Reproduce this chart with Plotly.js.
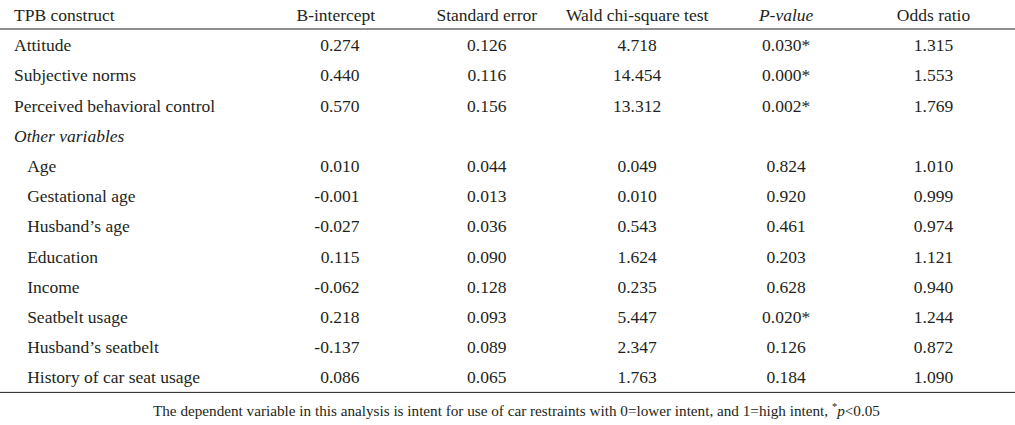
<!DOCTYPE html>
<html>
<head>
<meta charset="utf-8">
<script src="https://cdn.plot.ly/plotly-3.0.1.min.js"></script>
<style>html,body{margin:0;padding:0;background:#fff;}#chart{width:1015px;height:425px;}</style>
</head>
<body>
<div id="chart"></div>
<script>
// ---- data ----
var headers = ["TPB construct", "B-intercept", "Standard error", "Wald chi-square test", "P-value", "Odds ratio"];
var italicHeader = 4; // the P-value header is set in italics
var tpbConstructs = ["Attitude", "Subjective norms", "Perceived behavioral control"];
var otherGroupLabel = "Other variables";
var otherVariables = ["Age", "Gestational age", "Husband’s age", "Education", "Income", "Seatbelt usage", "Husband’s seatbelt", "History of car seat usage"];
var bIntercept = [0.274, 0.440, 0.570, 0.010, -0.001, -0.027, 0.115, -0.062, 0.218, -0.137, 0.086];
var stdError   = [0.126, 0.116, 0.156, 0.044, 0.013, 0.036, 0.090, 0.128, 0.093, 0.089, 0.065];
var waldChi    = [4.718, 14.454, 13.312, 0.049, 0.010, 0.543, 1.624, 0.235, 5.447, 2.347, 1.763];
var pValue     = [0.030, 0.000, 0.002, 0.824, 0.920, 0.461, 0.203, 0.628, 0.020, 0.126, 0.184];
var oddsRatio  = [1.315, 1.553, 1.769, 1.010, 0.999, 0.974, 1.121, 0.940, 1.244, 0.872, 1.090];
var footnote = "The dependent variable in this analysis is intent for use of car restraints with 0=lower intent, and 1=high intent, <sup>*</sup><i>p</i>&lt;0.05";

// ---- build table columns ----
var NB = "\u00a0";
function rep(s, n) { var o = ""; for (var i = 0; i < n; i++) o += s; return o; }
function noWrap(s) { return s.split(" ").join(NB); }
var indent = rep(NB, 3);
var bPad = rep(NB, 10);
var nT = tpbConstructs.length;

function withGroupGap(arr, fmt) {
  var out = [];
  arr.forEach(function (v, i) {
    if (i === nT) out.push("");
    out.push(fmt(v));
  });
  return out;
}
var f3 = function (v) { return v.toFixed(3); };

var col0 = tpbConstructs.slice()
  .concat([otherGroupLabel])
  .concat(otherVariables.map(function (s) { return indent + s; }));
var col0Style = col0.map(function (s, i) { return i === nT ? "italic" : "normal"; });
var col1 = withGroupGap(bIntercept, function (v) { return v.toFixed(3) + bPad; });
var col2 = withGroupGap(stdError, f3);
var col3 = withGroupGap(waldChi, f3);
var col4 = withGroupGap(pValue, function (v) { return v.toFixed(3) + (v < 0.05 ? "*" : ""); });
var col5 = withGroupGap(oddsRatio, f3);

var W = 1015, H = 425;
var FONT = "Liberation Serif, Times New Roman, serif";
var TXT = "#231f20";
var FS = 17.5;
var headerH = 30, rowH = 30.2;
var headerRuleY = 29;
var nRows = col0.length;
var tableBottom = headerH + rowH * nRows;

var trace = {
  type: "table",
  domain: { x: [6 / W, 1007.5 / W], y: [0, 1] },
  columnwidth: [254.5, 151, 151, 150, 148, 147],
  header: {
    values: headers.map(noWrap),
    align: ["left", "center", "center", "center", "center", "center"],
    height: headerH,
    font: { family: FONT, size: FS, color: TXT,
            style: headers.map(function (h, i) { return i === italicHeader ? "italic" : "normal"; }) },
    fill: { color: "#ffffff" },
    line: { color: "rgba(0,0,0,0)", width: 0 }
  },
  cells: {
    values: [col0, col1, col2, col3, col4, col5],
    align: ["left", "right", "center", "center", "center", "center"],
    height: rowH,
    font: { family: FONT, size: FS, color: TXT,
            style: [col0Style, "normal", "normal", "normal", "normal", "normal"] },
    fill: { color: "#ffffff" },
    line: { color: "rgba(0,0,0,0)", width: 0 }
  }
};

var layout = {
  width: W, height: H,
  margin: { l: 0, r: 0, t: 0, b: 0 },
  paper_bgcolor: "#ffffff",
  showlegend: false,
  shapes: [
    { type: "line", xref: "paper", yref: "paper", x0: 0, x1: 1, y0: 1 - headerRuleY / H, y1: 1 - headerRuleY / H, line: { color: TXT, width: 1 } },
    { type: "line", xref: "paper", yref: "paper", x0: 0, x1: 1, y0: 1 - tableBottom / H, y1: 1 - tableBottom / H, line: { color: TXT, width: 1 } }
  ],
  annotations: [
    { text: footnote, xref: "paper", yref: "paper", x: 516 / W, y: 1 - 410 / H, xanchor: "center", yanchor: "middle", showarrow: false, font: { family: FONT, size: 15.2, color: TXT } }
  ]
};

Plotly.newPlot("chart", [trace], layout, { displayModeBar: false, staticPlot: true });
</script>
</body>
</html>
